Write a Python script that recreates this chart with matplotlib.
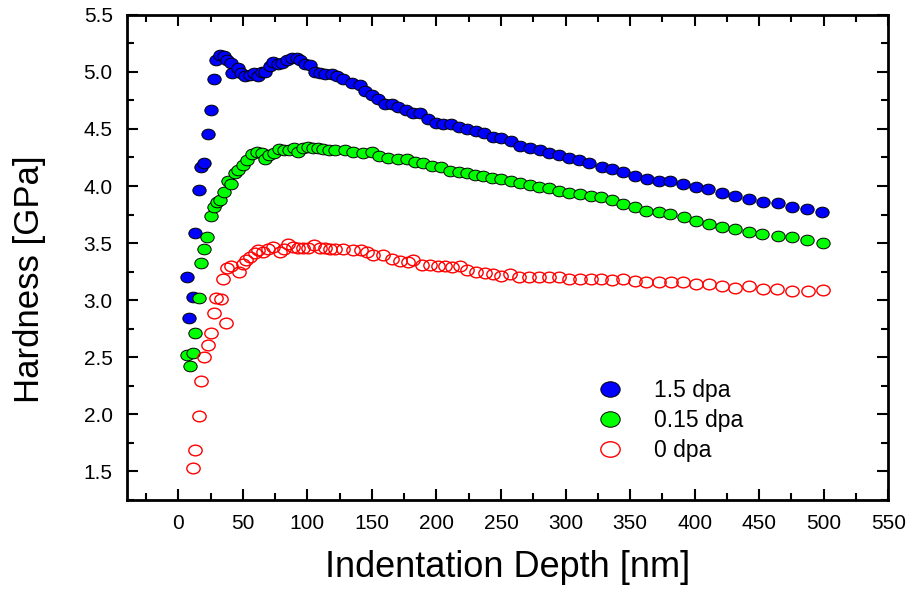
import numpy as np
import matplotlib
matplotlib.use('Agg')
import matplotlib.pyplot as plt
from matplotlib.path import Path
from matplotlib.ticker import MultipleLocator, FormatStrFormatter

plt.rcParams['font.family'] = ['Liberation Sans', 'DejaVu Sans']

# 1.5 dpa
blue_x = [6.4, 8.5, 11.1, 13.1, 15.7, 17.8, 20.3, 23.0, 25.3, 27.3, 29.2, 32.5, 35.3, 37.9, 41.0, 42.0,
          46.6, 48.7, 51.8, 55.5, 58.3, 61.6, 64.7, 67.3, 71.2, 73.7, 77.6, 80.2, 84.0, 88.0, 91.9, 94.5,
          98.2, 102.0, 106.0, 109.9, 113.8, 119.0, 122.9, 127.9, 134.3, 140.8, 144.7, 149.8, 155.0, 160.0,
          165.3, 170.4, 176.4, 182.0, 187.2, 193.2, 199.6, 205.3, 211.0, 217.6, 223.8, 230.5, 236.7, 244.0,
          250.4, 258.1, 265.0, 272.3, 280.0, 287.2, 294.9, 302.7, 310.4, 318.2, 328.5, 336.2, 344.5, 353.5,
          363.3, 372.3, 381.1, 390.9, 401.3, 410.2, 421.3, 431.6, 442.5, 452.7, 464.4, 475.5, 486.8, 498.4]
blue_y = [3.20, 2.84, 3.03, 3.585, 3.965, 4.17, 4.20, 4.46, 4.67, 4.94, 5.10, 5.15, 5.135, 5.10, 5.076, 4.99,
          5.03, 4.99, 4.96, 4.975, 4.99, 4.96, 5.00, 5.00, 5.05, 5.09, 5.07, 5.08, 5.105, 5.12, 5.12, 5.105,
          5.07, 5.06, 5.00, 4.99, 4.98, 4.98, 4.965, 4.94, 4.90, 4.886, 4.836, 4.80, 4.76, 4.72,
          4.717, 4.696, 4.667, 4.643, 4.637, 4.588, 4.555, 4.544, 4.544, 4.515, 4.497, 4.482, 4.462, 4.43,
          4.418, 4.397, 4.35, 4.33, 4.316, 4.287, 4.27, 4.243, 4.228, 4.20, 4.17, 4.15, 4.12, 4.09,
          4.06, 4.046, 4.044, 4.02, 3.994, 3.97, 3.94, 3.915, 3.886, 3.862, 3.848, 3.82, 3.795, 3.775]

# 0.15 dpa
green_x = [6.7, 9.0, 11.1, 13.2, 16.2, 17.8, 20.1, 22.4, 25.3, 27.3, 30.0, 32.5, 35.6, 38.4, 41.0, 43.6,
           46.6, 49.8, 53.1, 57.0, 60.9, 64.7, 67.3, 70.4, 74.5, 78.1, 82.2, 85.9, 90.0, 93.1, 97.0, 100.8,
           104.7, 108.6, 112.5, 116.8, 121.5, 129.2, 135.6, 143.4, 149.8, 155.7, 162.7, 170.4, 176.9, 183.3,
           189.3, 196.2, 203.4, 210.4, 217.6, 223.3, 229.7, 236.2, 243.4, 250.4, 258.1, 265.0, 272.3, 279.5,
           287.2, 294.9, 302.7, 311.0, 320.0, 327.7, 336.2, 344.5, 353.5, 362.6, 372.3, 381.1, 391.7, 400.7,
           411.0, 421.3, 431.6, 441.9, 452.3, 464.4, 475.5, 486.8, 499.7]
green_y = [2.52, 2.42, 2.54, 2.71, 3.02, 3.33, 3.45, 3.555, 3.737, 3.82, 3.86, 3.88, 3.95, 4.04, 4.02, 4.11,
           4.14, 4.18, 4.23, 4.28, 4.30, 4.29, 4.24, 4.27, 4.29, 4.32, 4.316, 4.316, 4.33, 4.30, 4.33, 4.345,
           4.33, 4.33, 4.32, 4.316, 4.316, 4.316, 4.296, 4.287, 4.30, 4.26, 4.243, 4.237, 4.237, 4.213,
           4.20, 4.175, 4.164, 4.134, 4.126, 4.11, 4.10, 4.088, 4.073, 4.059, 4.044, 4.024, 4.01, 3.994,
           3.98, 3.956, 3.94, 3.927, 3.912, 3.90, 3.877, 3.842, 3.813, 3.784, 3.77, 3.754, 3.725, 3.696,
           3.667, 3.643, 3.623, 3.60, 3.576, 3.56, 3.55, 3.526, 3.497]

# 0 dpa
red_x = [11.1, 13.1, 15.7, 17.8, 20.1, 22.7, 25.3, 27.3, 29.2, 33.0, 35.0, 36.9, 38.0, 41.0, 47.2, 49.8,
         52.4, 55.7, 59.6, 62.1, 66.0, 69.9, 73.7, 78.9, 82.2, 85.3, 89.2, 93.1, 97.0, 100.8, 105.4, 109.9,
         113.8, 117.7, 121.5, 127.9, 135.6, 141.3, 146.0, 151.2, 158.8, 165.3, 171.7, 178.2, 182.0, 188.5,
         195.0, 201.4, 206.5, 211.7, 218.1, 223.8, 230.5, 237.5, 244.0, 250.4, 256.8, 264.0, 271.7, 279.5,
         287.2, 294.9, 302.7, 311.0, 320.0, 327.7, 336.2, 344.5, 353.5, 362.6, 372.3, 381.7, 390.9, 401.3,
         411.0, 421.3, 431.6, 441.9, 452.7, 463.9, 475.5, 487.6, 499.2]
red_y = [1.53, 1.69, 1.99, 2.29, 2.50, 2.61, 2.71, 2.89, 3.02, 3.01, 3.19, 2.80, 3.28, 3.30, 3.25, 3.32,
         3.35, 3.375, 3.41, 3.44, 3.42, 3.45, 3.47, 3.42, 3.45, 3.49, 3.47, 3.46, 3.46, 3.46, 3.48, 3.46,
         3.46, 3.45, 3.45, 3.445, 3.44, 3.44, 3.42, 3.40, 3.395, 3.357, 3.345, 3.337, 3.35, 3.307,
         3.307, 3.298, 3.298, 3.29, 3.298, 3.263, 3.25, 3.24, 3.228, 3.21, 3.228, 3.205, 3.20, 3.20,
         3.20, 3.20, 3.19, 3.19, 3.19, 3.19, 3.175, 3.184, 3.167, 3.16, 3.16, 3.16, 3.155, 3.146,
         3.14, 3.12, 3.11, 3.12, 3.10, 3.094, 3.08, 3.08, 3.088]

labels = ['1.5 dpa', '0.15 dpa', '0 dpa']

# slightly flattened circle like the Origin symbols
circ = Path.unit_circle()
ell = Path(circ.vertices * np.array([1.0, 0.8]), circ.codes)

fig = plt.figure(figsize=(9.11, 5.91), dpi=100)
ax = fig.add_axes([0.139, 0.154, 0.836, 0.821])

ms = 9.6
ax.plot(blue_x, blue_y, ls='none', marker=ell, ms=ms, mfc='#0000ff', mec='black', mew=0.7, label=labels[0])
ax.plot(green_x, green_y, ls='none', marker=ell, ms=ms, mfc='#00ff00', mec='black', mew=0.7, label=labels[1])
ax.plot(red_x, red_y, ls='none', marker=ell, ms=ms, mfc='none', mec='#ff0000', mew=1.0, label=labels[2])

ax.set_xlim(-40, 550)
ax.set_ylim(1.25, 5.5)
ax.xaxis.set_major_locator(MultipleLocator(50))
ax.xaxis.set_minor_locator(MultipleLocator(25))
ax.yaxis.set_major_locator(MultipleLocator(0.5))
ax.yaxis.set_minor_locator(MultipleLocator(0.25))
ax.yaxis.set_major_formatter(FormatStrFormatter('%.1f'))

ax.tick_params(which='both', direction='in', top=True, right=True, width=1.5, labelsize=15)
ax.tick_params(which='major', length=8, pad=10)
ax.tick_params(which='minor', length=5)
for s in ax.spines.values():
    s.set_linewidth(2)

ax.set_xlabel('Indentation Depth [nm]', fontsize=26, labelpad=12)
ax.set_ylabel('Hardness [GPa]', fontsize=25)
ax.yaxis.set_label_coords(-0.106, 0.455)

ax.legend(loc='upper left', bbox_to_anchor=(0.592, 0.268), frameon=False, fontsize=16.5,
          markerscale=1.45, handletextpad=0.95, labelspacing=0.3, borderaxespad=0)

fig.savefig('out.png', dpi=100)
